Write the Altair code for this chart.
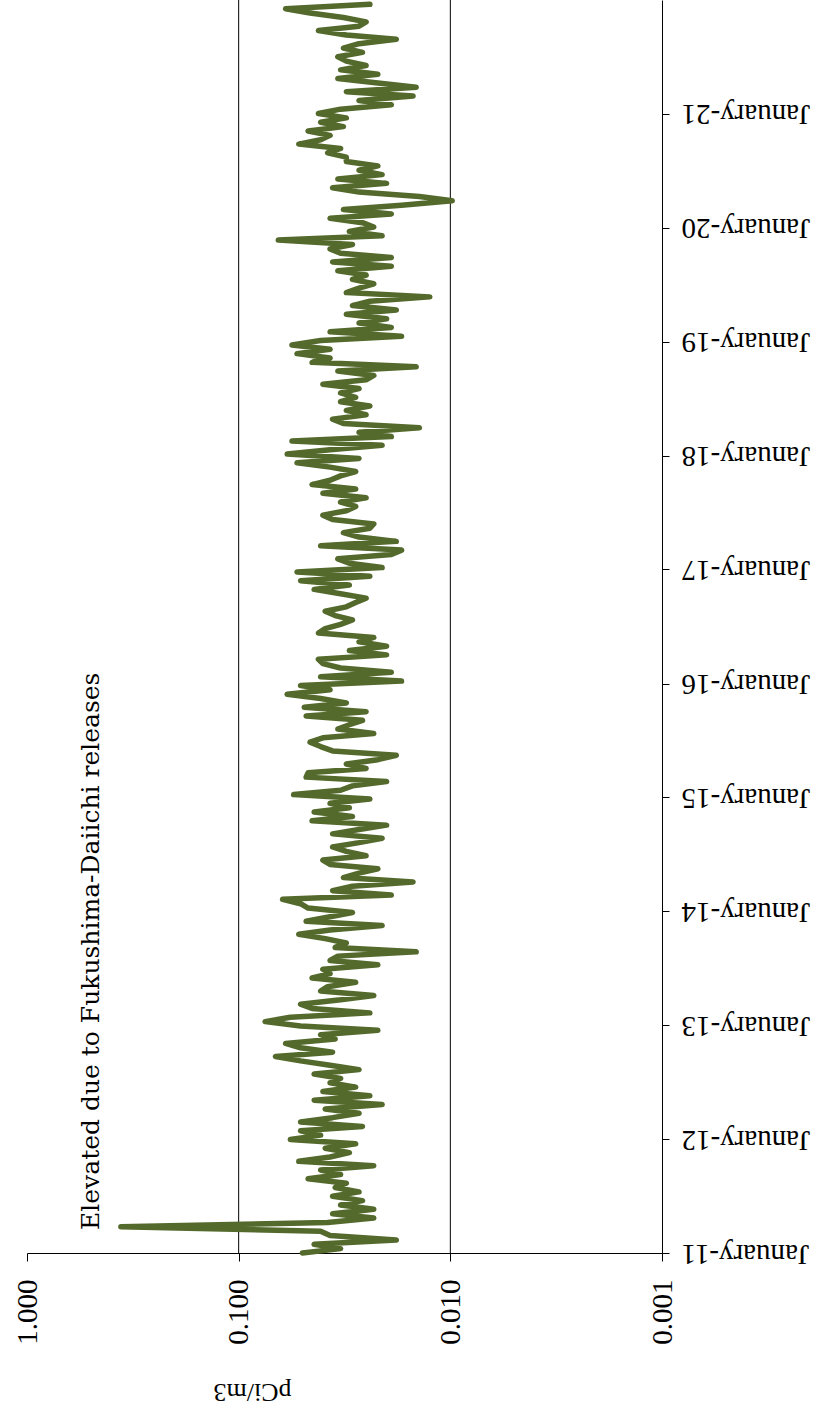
import altair as alt
import pandas as pd

# Airborne concentration, one sample every two weeks from January 2011
start_date = "2011-01-01"
sample_interval = "14D"

conc_2011 = [0.050, 0.033, 0.044, 0.018, 0.037, 0.041, 0.36, 0.038, 0.023, 0.036,
             0.023, 0.033, 0.026, 0.036, 0.027, 0.035, 0.031, 0.047, 0.033, 0.041,
             0.023, 0.052, 0.037, 0.030, 0.039, 0.028]
conc_2012 = [0.057, 0.041, 0.051, 0.026, 0.051, 0.036, 0.027, 0.039, 0.021, 0.044,
             0.024, 0.040, 0.028, 0.037, 0.033, 0.044, 0.027, 0.037, 0.051, 0.067,
             0.036, 0.051, 0.060, 0.035, 0.041, 0.022]
conc_2013 = [0.051, 0.075, 0.057, 0.024, 0.045, 0.051, 0.033, 0.023, 0.041, 0.038,
             0.028, 0.045, 0.037, 0.040, 0.022, 0.037, 0.034, 0.0145, 0.035, 0.031,
             0.039, 0.052, 0.037, 0.021, 0.048, 0.037]
conc_2014 = [0.029, 0.047, 0.051, 0.062, 0.019, 0.036, 0.029, 0.015, 0.032, 0.027,
             0.022, 0.037, 0.040, 0.025, 0.031, 0.036, 0.027, 0.021, 0.036, 0.027,
             0.020, 0.045, 0.029, 0.044, 0.030, 0.037]
conc_2015 = [0.024, 0.055, 0.033, 0.029, 0.020, 0.048, 0.047, 0.025, 0.031, 0.022,
             0.018, 0.036, 0.041, 0.046, 0.040, 0.023, 0.034, 0.030, 0.026, 0.048,
             0.025, 0.049, 0.031, 0.041, 0.059, 0.037]
conc_2016 = [0.051, 0.017, 0.041, 0.019, 0.033, 0.040, 0.042, 0.020, 0.030, 0.020,
             0.027, 0.023, 0.042, 0.039, 0.033, 0.029, 0.035, 0.039, 0.031, 0.028,
             0.025, 0.033, 0.044, 0.030, 0.051, 0.024]
conc_2017 = [0.053, 0.021, 0.030, 0.034, 0.019, 0.017, 0.041, 0.018, 0.027, 0.032,
             0.024, 0.023, 0.036, 0.040, 0.031, 0.028, 0.033, 0.025, 0.040, 0.028,
             0.045, 0.037, 0.033, 0.028, 0.037, 0.053]
conc_2018 = [0.027, 0.059, 0.037, 0.021, 0.056, 0.019, 0.027, 0.014, 0.032, 0.036,
             0.025, 0.031, 0.024, 0.033, 0.028, 0.033, 0.027, 0.040, 0.025, 0.023,
             0.034, 0.0145, 0.045, 0.037, 0.053, 0.037]
conc_2019 = [0.056, 0.041, 0.017, 0.037, 0.019, 0.027, 0.020, 0.031, 0.018, 0.029,
             0.024, 0.0125, 0.031, 0.027, 0.023, 0.029, 0.025, 0.034, 0.019, 0.036,
             0.019, 0.033, 0.037, 0.029, 0.065, 0.021]
conc_2020 = [0.030, 0.023, 0.026, 0.037, 0.019, 0.032, 0.017, 0.0098, 0.014, 0.027,
             0.036, 0.020, 0.034, 0.021, 0.027, 0.022, 0.031, 0.031, 0.038, 0.033,
             0.052, 0.041, 0.037, 0.047, 0.032, 0.041]
conc_2021 = [0.031, 0.042, 0.033, 0.019, 0.027, 0.015, 0.031, 0.0145, 0.022, 0.034,
             0.022, 0.033, 0.025, 0.031, 0.034, 0.026, 0.032, 0.027, 0.018, 0.031,
             0.042, 0.027, 0.025, 0.032, 0.046, 0.060, 0.024]

concentration = (conc_2011 + conc_2012 + conc_2013 + conc_2014 + conc_2015 + conc_2016
                 + conc_2017 + conc_2018 + conc_2019 + conc_2020 + conc_2021)

tick_years = list(range(2011, 2022))
value_ticks = [0.001, 0.01, 0.1, 1.0]
grid_values = [0.1, 0.01]

note_text = "Elevated due to Fukushima-Daiichi  releases"
note_date = "2011-03-16"
note_value = 0.5

series = pd.DataFrame({
    "date": pd.date_range(start_date, periods=len(concentration), freq=sample_interval),
    "value": concentration,
})
grid = pd.DataFrame({"value": grid_values})
note = pd.DataFrame({"date": [note_date], "value": [note_value], "label": [note_text]})

SERIF = "Liberation Serif"

x_scale = alt.Scale(type="log", domain=[0.001, 1.0], reverse=True)
y_scale = alt.Scale(domain=[alt.DateTime(year=2011, month=1, date=1),
                            alt.DateTime(year=2022, month=1, date=1)])

x_axis = alt.Axis(
    orient="bottom", values=value_ticks, format=".3f", grid=False,
    labelAngle=270, labelAlign="right", labelBaseline="middle",
    labelFont=SERIF, labelFontSize=29, labelColor="black", labelPadding=18,
    labelFlush=False, labelOverlap=False,
    tickSize=8, tickColor="black", domainColor="black",
    title="pCi/m3", titleAngle=180, titleFont=SERIF, titleFontSize=26,
    titleFontWeight="normal", titleColor="black", titleAlign="center",
    titleBaseline="middle", titleX=225, titleY=138,
)
y_axis = alt.Axis(
    orient="right", values=[alt.DateTime(year=y, month=1, date=1) for y in tick_years],
    format="%B-%y", grid=False,
    labelAngle=180, labelAlign="right", labelBaseline="middle",
    labelFont=SERIF, labelFontSize=29, labelColor="black", labelPadding=12,
    labelFlush=False, labelOverlap=False,
    tickSize=7, tickColor="black", domainColor="black", title=None,
)

gridlines = alt.Chart(grid).mark_rule(color="black", strokeWidth=1).encode(
    x=alt.X("value:Q", scale=x_scale, axis=x_axis),
)

trace = alt.Chart(series).mark_line(
    color="#54692C", strokeWidth=5.5, strokeJoin="round", strokeCap="round"
).encode(
    x=alt.X("value:Q", scale=x_scale, axis=x_axis),
    y=alt.Y("date:T", scale=y_scale, axis=y_axis),
    order="date:T",
)

label = alt.Chart(note).mark_text(
    angle=270, align="left", baseline="middle",
    font="DejaVu Serif", fontSize=25, color="black",
).encode(
    x=alt.X("value:Q", scale=x_scale),
    y=alt.Y("date:T", scale=y_scale),
    text="label:N",
)

chart = alt.layer(gridlines, trace, label).properties(
    width=635, height=1253,
    padding={"left": 27, "top": 0, "right": 165, "bottom": 165},
    autosize=alt.AutoSizeParams(type="none"),
    background="white",
).configure_view(stroke=None)

chart.save("out.html", embed_options={"renderer": "svg", "actions": False})
